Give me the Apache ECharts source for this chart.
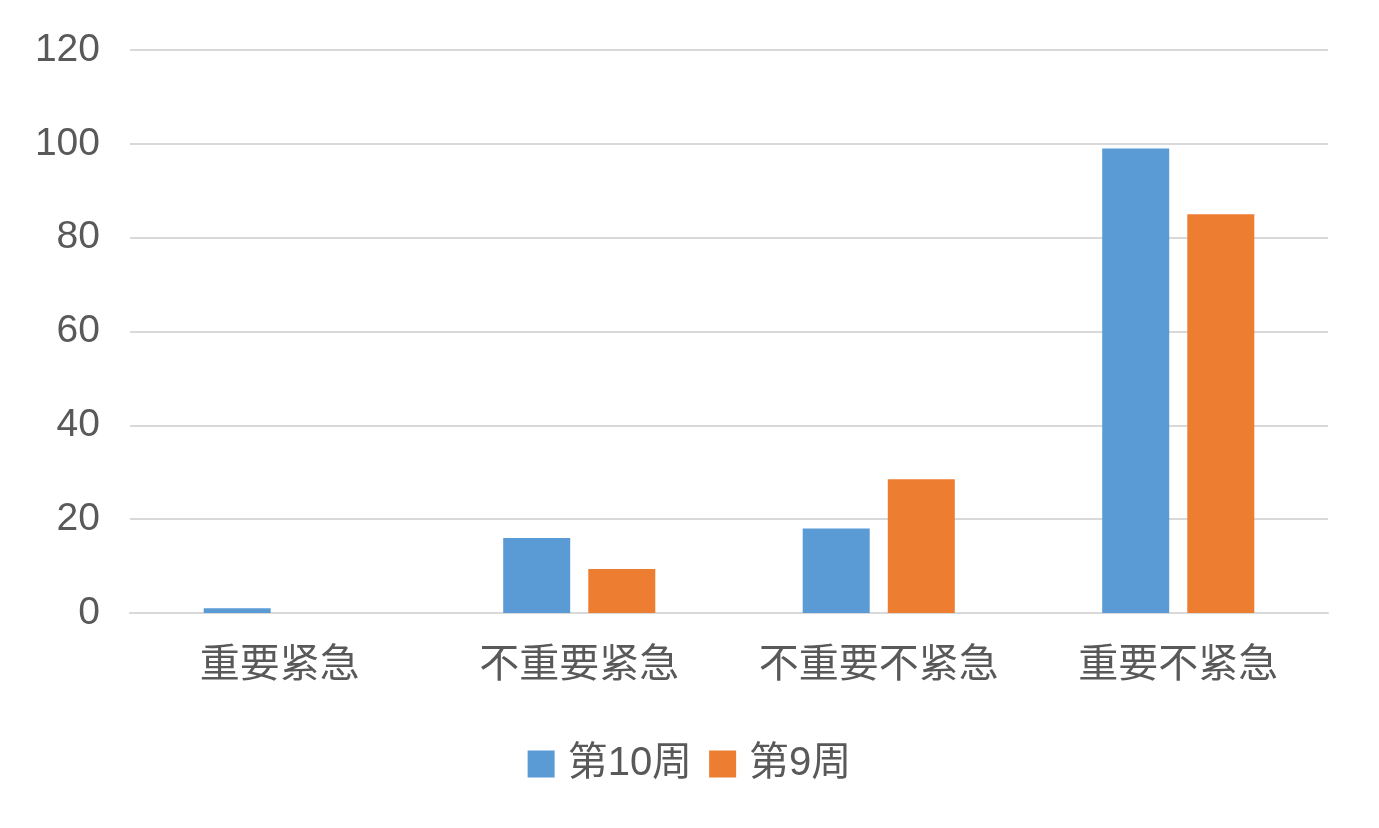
<!DOCTYPE html>
<html>
<head>
<meta charset="utf-8">
<script src="https://cdn.jsdelivr.net/npm/echarts@6/dist/echarts.min.js"></script>
<style>
  html, body { margin: 0; padding: 0; background: #fff; }
  #chart { width: 1379px; height: 828px; }
</style>
</head>
<body>
<div id="chart"></div>
<script>
const categories = ['重要紧急', '不重要紧急', '不重要不紧急', '重要不紧急'];
const week10 = [1, 16, 18, 99];
const week9 = [0, 9.4, 28.5, 85];
const seriesNames = ['第10周', '第9周'];

const fontFamily = '"Liberation Sans", "Noto Sans CJK SC", sans-serif';
const textColor = '#595959';

let myChart = echarts.init(document.getElementById('chart'));
myChart.setOption({
  animation: false,
  textStyle: { fontFamily: fontFamily },
  grid: {
    top: 50,
    left: 130,
    right: 51,
    bottom: 215
  },
  legend: {
    data: seriesNames,
    bottom: 39,
    left: 'center',
    icon: 'rect',
    itemWidth: 27,
    itemHeight: 27,
    itemGap: 17,
    textStyle: {
      fontSize: 40,
      color: textColor,
      fontFamily: fontFamily,
      padding: [0, 0, 0, 8]
    }
  },
  xAxis: {
    type: 'category',
    data: categories,
    axisTick: { show: false },
    axisLine: {
      lineStyle: { color: '#d9d9d9', width: 2 }
    },
    axisLabel: {
      interval: 0,
      fontSize: 40,
      color: textColor,
      margin: 33,
      fontFamily: fontFamily
    }
  },
  yAxis: {
    type: 'value',
    min: 0,
    max: 120,
    interval: 20,
    axisLine: { show: false },
    axisTick: { show: false },
    axisLabel: {
      fontSize: 39,
      color: textColor,
      margin: 30,
      fontFamily: fontFamily
    },
    splitLine: {
      lineStyle: { color: '#d9d9d9', width: 2 }
    }
  },
  series: [
    {
      name: seriesNames[0],
      type: 'bar',
      data: week10,
      barWidth: 67,
      barGap: '27%',
      itemStyle: { color: '#5b9bd5' }
    },
    {
      name: seriesNames[1],
      type: 'bar',
      data: week9,
      barWidth: 67,
      barGap: '27%',
      itemStyle: { color: '#ed7d31' }
    }
  ]
});
window.addEventListener('resize', myChart.resize);
</script>
</body>
</html>
